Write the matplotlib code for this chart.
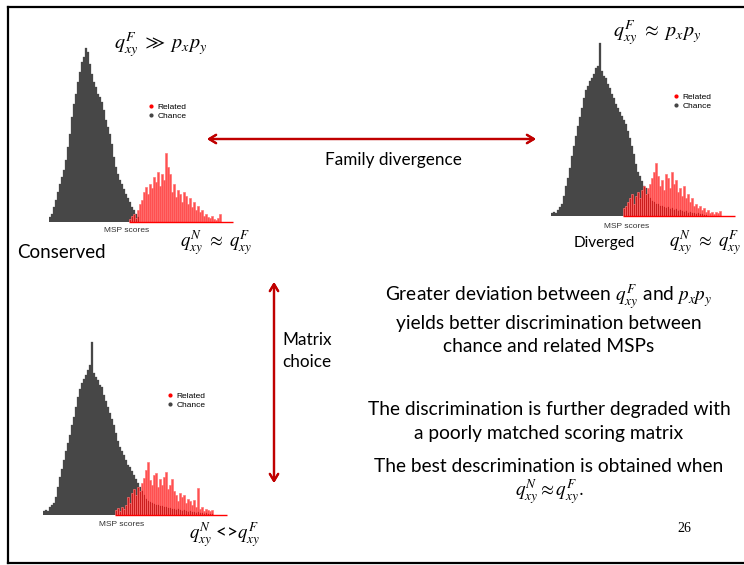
import matplotlib
matplotlib.use("Agg")
import matplotlib.pyplot as plt
from matplotlib.lines import Line2D
import numpy as np

plt.rcParams['font.family'] = ['Lato', 'DejaVu Sans']
plt.rcParams['mathtext.fontset'] = 'stix'

W, H = 744, 565

# ---------------- data (bin counts) ----------------
# Panel 1: Conserved
cons_chance = [5, 8, 15, 22, 30, 38, 45, 52, 62, 75, 88, 105, 118, 128, 140, 150, 160, 165,
               174, 170, 158, 148, 140, 135, 128, 125, 120, 112, 102, 95, 88, 78, 65, 55, 48,
               42, 38, 33, 28, 24, 20, 15, 12, 8, 5]
cons_related = [3, 6, 8, 4, 12, 18, 22, 30, 35, 28, 38, 34, 45, 40, 50, 36, 48, 42, 69, 55, 48,
                30, 38, 25, 32, 28, 20, 30, 26, 18, 24, 15, 20, 12, 16, 10, 12, 6, 8, 5, 4, 6,
                3, 2, 4, 8, 0, 0, 0, 0, 0, 0]
cons_related_start = 40

# Panel 2: Diverged
div_chance = [3, 4, 3, 6, 9, 12, 20, 30, 38, 48, 60, 70, 80, 90, 99, 108, 118, 126, 130, 135,
              138, 142, 148, 150, 173, 145, 140, 138, 132, 128, 122, 118, 112, 108, 104, 100,
              96, 92, 85, 78, 70, 62, 52, 44, 40, 35, 30, 28, 22, 18, 15, 14, 12, 12, 10, 10,
              9, 8, 9, 7, 8, 6, 7, 5, 6, 5, 4, 5, 3, 4, 3, 3, 2, 3, 2, 2, 1, 1]
div_related = [8, 10, 14, 18, 22, 12, 20, 24, 18, 26, 30, 22, 28, 32, 38, 44, 53, 40, 30, 36,
               26, 42, 38, 28, 44, 32, 36, 24, 28, 20, 30, 18, 22, 14, 18, 10, 12, 8, 10, 6,
               8, 4, 6, 3, 4, 2, 4, 3, 5, 0, 0, 0, 0, 0, 0, 0]
div_related_start = 36

# Panel 3: poorly matched matrix
mis_chance = [4, 5, 4, 8, 10, 12, 18, 28, 38, 46, 55, 64, 72, 80, 90, 98, 108, 118, 126, 132,
              136, 140, 145, 150, 173, 142, 138, 135, 130, 128, 120, 114, 108, 102, 96, 90, 82,
              74, 68, 64, 60, 55, 50, 48, 44, 40, 36, 32, 28, 24, 20, 16, 14, 13, 12, 11, 10,
              10, 9, 9, 8, 8, 7, 7, 6, 6, 5, 6, 5, 4, 5, 4, 3, 4, 3, 3, 2, 3, 2, 2, 1, 2, 1,
              1, 1]
mis_related = [5, 7, 4, 8, 6, 10, 18, 12, 22, 26, 20, 28, 24, 32, 37, 45, 53, 35, 30, 40, 42,
               28, 36, 30, 38, 43, 26, 30, 36, 24, 20, 14, 22, 18, 20, 12, 16, 14, 10, 15, 8,
               27, 6, 8, 4, 6, 5, 4, 5, 0, 0, 0, 0, 0, 0, 0]
mis_related_start = 36

legend_labels = ["Related", "Chance"]
axis_label = "MSP scores"

CHANCE_FACE = "#474747"
REL_FACE = (1.0, 0.05, 0.05, 0.72)
REL_EDGE = (1.0, 0.45, 0.45, 0.8)
ARROW = "#c00000"

fig = plt.figure(figsize=(W / 100, H / 100), dpi=100)


def fx(px):
    return px / W


def fy(py):
    return 1 - py / H


def histo_panel(left_px, base_px, chance, related, rel_start, legend_xy):
    xmax = 92
    ax = fig.add_axes([fx(left_px - 1), fy(base_px), fx((xmax + 0.5) * 2), 180 / H])
    ax.set_xlim(-0.5, xmax)
    ax.set_ylim(0, 180)
    ax.axis("off")
    xc = np.arange(len(chance))
    ax.bar(xc, chance, width=1.0, color=CHANCE_FACE, edgecolor=CHANCE_FACE, linewidth=0.2)
    xr = rel_start + np.arange(len(related))
    ax.bar(xr, related, width=0.85, color=REL_FACE, edgecolor=REL_EDGE, linewidth=0.6)
    ax.hlines(0, xr[0] - 0.5, xr[-1] + 0.5, color="#ff0000", lw=1.0, clip_on=False)
    handles = [Line2D([], [], marker="o", ls="", ms=2, color="red"),
               Line2D([], [], marker="o", ls="", ms=2, color="#444444")]
    ax.legend(handles, legend_labels, loc="upper left", frameon=False,
              bbox_to_anchor=(fx(legend_xy[0] - 4), fy(legend_xy[1] - 5)),
              bbox_transform=fig.transFigure, handlelength=0.5,
              handletextpad=0.5, labelspacing=0.15, borderpad=0, borderaxespad=0,
              prop={"family": "Liberation Sans", "size": 6})
    return ax


histo_panel(50, 222, cons_chance, cons_related, cons_related_start, (153, 108))
histo_panel(552, 216, div_chance, div_related, div_related_start, (678, 98))
histo_panel(44, 515, mis_chance, mis_related, mis_related_start, (172, 397))

# axis labels
for (x, y) in [(127, 231), (627, 226), (122, 524)]:
    fig.text(fx(x), fy(y), axis_label, ha="center", va="center", fontsize=6,
             family="Liberation Sans", color="#333333")

# formulas
fig.text(fx(161), fy(45), r"$q_{xy}^{F}\ \gg\ p_x p_y$", ha="center", va="center", fontsize=14.5)
fig.text(fx(657), fy(33), r"$q_{xy}^{F}\ \approx\ p_x p_y$", ha="center", va="center", fontsize=14.5)
fig.text(fx(216), fy(243), r"$q_{xy}^{N}\ \approx\ q_{xy}^{F}$", ha="center", va="center", fontsize=13.5)
fig.text(fx(705), fy(243), r"$q_{xy}^{N}\ \approx\ q_{xy}^{F}$", ha="center", va="center", fontsize=13.5)
fig.text(fx(225), fy(535), r"$q_{xy}^{N}$ <>$q_{xy}^{F}$", ha="center", va="center", fontsize=13.5)

fig.text(fx(17), fy(253), "Conserved", ha="left", va="center", fontsize=13.5)
fig.text(fx(604), fy(243), "Diverged", ha="center", va="center", fontsize=11)

# arrows
fig.add_artist(plt.annotate("", xy=(fx(536), fy(139)), xytext=(fx(207), fy(139)),
                            xycoords="figure fraction", textcoords="figure fraction",
                            arrowprops=dict(arrowstyle="<->,head_length=0.5,head_width=0.3",
                                            color=ARROW, lw=1.6, shrinkA=0, shrinkB=0)))
fig.add_artist(plt.annotate("", xy=(fx(274), fy(483)), xytext=(fx(274), fy(282)),
                            xycoords="figure fraction", textcoords="figure fraction",
                            arrowprops=dict(arrowstyle="<->,head_length=0.5,head_width=0.3",
                                            color=ARROW, lw=1.6, shrinkA=0, shrinkB=0)))

fig.text(fx(393), fy(160), "Family divergence", ha="center", va="center", fontsize=12.3)
fig.text(fx(307), fy(340), "Matrix", ha="center", va="center", fontsize=12.3)
fig.text(fx(307), fy(362), "choice", ha="center", va="center", fontsize=12.3)

# right-hand text
cx = 549
lines = [
    (297, r"Greater deviation between $q_{xy}^{F}$ and $p_xp_y$"),
    (323, "yields better discrimination between"),
    (346, "chance and related MSPs"),
    (409, "The discrimination is further degraded with"),
    (433, "a poorly matched scoring matrix"),
    (467, "The best descrimination is obtained when"),
    (492, r"$q_{xy}^{N}\approx q_{xy}^{F}.$"),
]
for y, s in lines:
    fig.text(fx(cx), fy(y), s, ha="center", va="center", fontsize=13.8)

fig.text(fx(684), fy(529), "26", ha="center", va="center", fontsize=10, family="Liberation Serif")

# slide frame
fig.add_artist(Line2D([fx(8), fx(8)], [fy(7), fy(563)], color="black", lw=1.6))
fig.add_artist(Line2D([fx(8), 1.0], [fy(7), fy(7)], color="black", lw=1.6))
fig.add_artist(Line2D([fx(8), 1.0], [fy(563), fy(563)], color="black", lw=1.6))

fig.savefig("out.png", dpi=100)
